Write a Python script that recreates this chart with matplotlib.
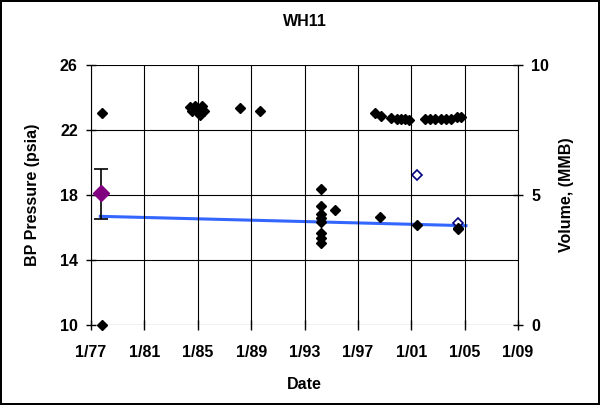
import matplotlib
matplotlib.use("Agg")
import matplotlib.pyplot as plt

plt.rcParams["font.family"] = ["Liberation Sans", "DejaVu Sans"]
plt.rcParams["font.weight"] = "bold"

# BP pressure measurements (psia) vs decimal year
bp_year = [1977.8, 1977.8,
           1984.4, 1984.6, 1984.8, 1985.0, 1985.1, 1985.3, 1985.5, 1985.2,
           1988.2, 1989.65,
           1994.2, 1994.2, 1994.2, 1994.2, 1994.2, 1994.2, 1994.2, 1994.2, 1995.3,
           1998.3, 1998.7, 1999.5, 1999.9, 2000.2, 2000.5, 2000.8,
           2002.0, 2002.4, 2002.8, 2003.2, 2003.6, 2004.0, 2004.4, 2004.7,
           1998.65, 2001.45, 2004.5, 2004.5]
bp_psia = [23.05, 10.0,
           23.4, 23.2, 23.5, 23.1, 23.3, 23.5, 23.2, 22.95,
           23.35, 23.15,
           18.4, 17.3, 16.85, 16.6, 16.35, 15.65, 15.35, 15.05, 17.1,
           23.05, 22.85, 22.75, 22.7, 22.65, 22.7, 22.6,
           22.65, 22.65, 22.65, 22.65, 22.7, 22.7, 22.8, 22.8,
           16.65, 16.15, 15.9, 16.0]

# initial pressure estimate with range
init_year = [1977.75]
init_psia = [18.1]
init_lo = [16.55]
init_hi = [19.6]

# volume points (MMB), hollow markers
vol_year = [2001.45, 2004.5]
vol_mmb = [5.77, 3.92]

# volume trend line (MMB)
trend_year = [1977.7, 2005.1]
trend_mmb = [4.18, 3.82]

xticks = [1977, 1981, 1985, 1989, 1993, 1997, 2001, 2005, 2009]
xlabels = ["1/77", "1/81", "1/85", "1/89", "1/93", "1/97", "1/01", "1/05", "1/09"]

fig = plt.figure(figsize=(6, 4.05), dpi=100)
fig.patch.set_edgecolor("black")
fig.patch.set_linewidth(1.5)
ax = fig.add_axes([0.1517, 0.1975, 0.7116, 0.642])
ax2 = ax.twinx()

ax.set_xlim(1977, 2009)
ax.set_ylim(10, 26)
ax2.set_ylim(0, 10)

ax.grid(True, color="black", linewidth=0.8)
ax.set_axisbelow(True)

ax2.plot(trend_year, trend_mmb, color="#3366FF", linewidth=2.2, zorder=2)
ax.plot(bp_year, bp_psia, "D", color="black", markersize=5.6, zorder=3, clip_on=False)
ax.errorbar(init_year, init_psia,
            yerr=[[init_psia[0] - init_lo[0]], [init_hi[0] - init_psia[0]]],
            fmt="D", color="#800080", ecolor="black", elinewidth=1.2,
            capsize=5, capthick=1.2, markersize=8, zorder=4)
ax2.plot(vol_year, vol_mmb, "D", markerfacecolor="white", markeredgecolor="#000080",
         markeredgewidth=1.2, markersize=5, linestyle="none", zorder=3)
ax.set_zorder(ax2.get_zorder() + 1)
ax.patch.set_visible(False)

ax.set_xticks(xticks)
ax.set_xticklabels(xlabels)
ax.set_yticks([10, 14, 18, 22, 26])
ax2.set_yticks([0, 5, 10])

for a in (ax, ax2):
    a.tick_params(direction="inout", length=7, width=1, labelsize=11.5, colors="black")
    for s in a.spines.values():
        s.set_visible(False)
ax.spines["left"].set_visible(True)
ax2.spines["right"].set_visible(True)
ax.tick_params(axis="x", pad=11)
ax.tick_params(axis="y", pad=6)
ax2.tick_params(axis="y", pad=6)

ax.set_title("WH11", fontsize=11.5, fontweight="bold", pad=28)
ax.set_xlabel("Date", fontsize=11.5, fontweight="bold", labelpad=12)
ax.set_ylabel("BP Pressure (psia)", fontsize=11.5, fontweight="bold", labelpad=14)
ax2.set_ylabel("Volume, (MMB)", fontsize=11.5, fontweight="bold", labelpad=7)

fig.savefig("out.png", dpi=100)
